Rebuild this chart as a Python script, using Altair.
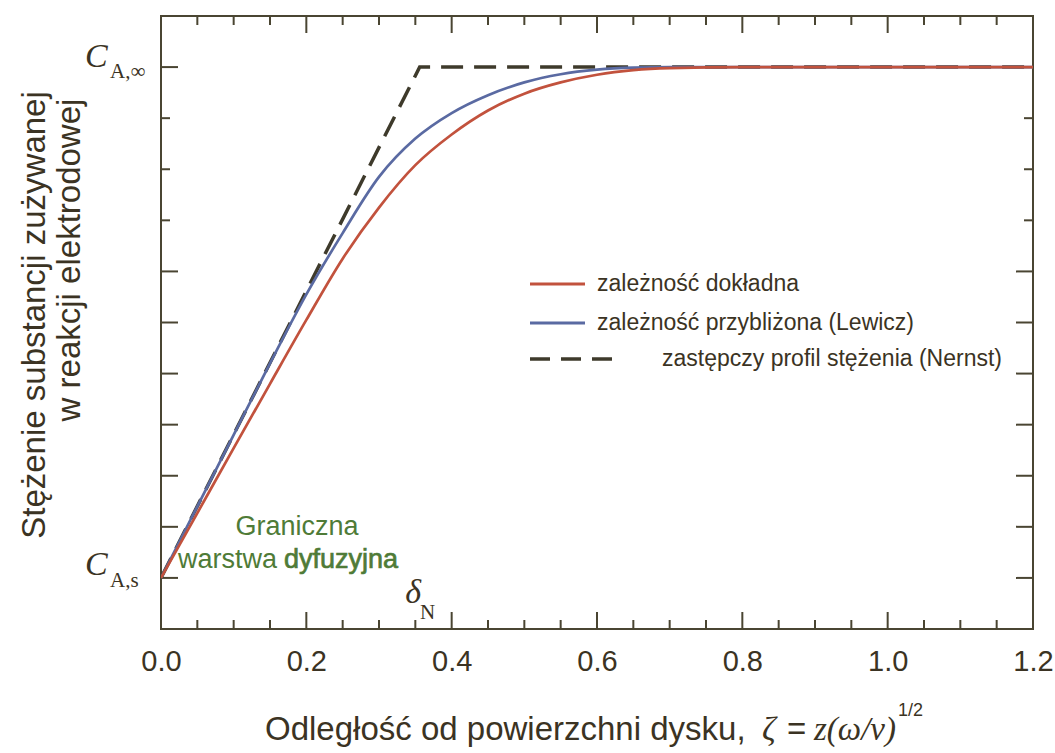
import altair as alt
import pandas as pd

# Dimensionless distance from the disk surface, zeta = z (omega/nu)^(1/2)
zeta = [0.0, 0.05, 0.10, 0.15, 0.20, 0.25, 0.30, 0.35, 0.40, 0.45, 0.50,
        0.55, 0.60, 0.65, 0.70, 0.80, 0.90, 1.00, 1.10, 1.20]
# Relative concentration: 0 = C_A,s (surface), 1 = C_A,inf (bulk)
exact = [0.0, 0.127, 0.254, 0.380, 0.505, 0.625, 0.725, 0.808, 0.868, 0.915, 0.948,
         0.970, 0.985, 0.994, 0.998, 1.0, 1.0, 1.0, 1.0, 1.0]
levich = [0.0, 0.140, 0.280, 0.420, 0.555, 0.675, 0.785, 0.860, 0.910, 0.945, 0.970,
          0.986, 0.995, 0.999, 1.0, 1.0, 1.0, 1.0, 1.0, 1.0]
# Nernst substitute profile: linear up to delta_N, then constant
delta_n = 0.356
nernst_zeta = [0.0, delta_n, 1.2]
nernst = [0.0, 1.0, 1.0]

x_ticks = [round(0.05 * i, 2) for i in range(25)]
x_major = [0.0, 0.2, 0.4, 0.6, 0.8, 1.0, 1.2]
y_ticks_long = [0.0, 0.1, 0.2, 0.3, 0.4, 0.5, 0.6, 1.0]
y_ticks_short = [0.7, 0.8, 0.9]

INK = "#3b3323"
FRAME = "#4a4532"
RED = "#c2523d"
BLUE = "#5a6aa2"
DASH = "#3e3a2b"
GREEN = "#4f7b37"
SANS = "Liberation Sans"
SERIF = "Liberation Serif"

W, H = 872, 613

x_scale = alt.Scale(domain=[0, 1.2], nice=False, zero=False)
y_scale = alt.Scale(domain=[-0.1, 1.1], nice=False, zero=False)
x_axis = alt.Axis(values=x_major, format=".1f", ticks=False, tickSize=0, domain=False,
                  grid=False, labelFont=SANS, labelFontSize=29, labelColor=INK,
                  labelBaseline="alphabetic", labelPadding=41, labelFlush=False, title=None)


def xq(field="zeta"):
    return alt.X(f"{field}:Q", scale=x_scale, axis=x_axis)


def yq(field="c"):
    return alt.Y(f"{field}:Q", scale=y_scale, axis=None)


def curve(xs, ys, color, width, dash=None):
    df = pd.DataFrame({"zeta": xs, "c": ys})
    kw = dict(color=color, strokeWidth=width, clip=True)
    if dash:
        kw["strokeDash"] = dash
    else:
        kw["interpolate"] = "monotone"
    return alt.Chart(df).mark_line(**kw).encode(x=xq(), y=yq())


def text(t, x, y, size, font=SANS, style="normal", color=INK,
         align="left", baseline="alphabetic", angle=0, heavy=False):
    kw = dict(font=font, fontSize=size, fontStyle=style, color=color,
              align=align, baseline=baseline, angle=angle)
    if heavy:
        kw.update(stroke=color, strokeWidth=0.7)
    return alt.Chart(pd.DataFrame({"t": [t]})).mark_text(**kw).encode(
        x=alt.value(x), y=alt.value(y), text="t:N")


# Inward ticks on all four sides of the frame
xt = pd.DataFrame({"zeta": x_ticks})
xt_major = xt[xt["zeta"].round(2).isin(x_major)]
xt_minor = xt[~xt["zeta"].round(2).isin(x_major)]


def xtick_layer(df, length, top):
    if top:
        enc = dict(y=alt.value(0), y2=alt.value(length))
    else:
        enc = dict(y=alt.value(H), y2=alt.value(H - length))
    return alt.Chart(df).mark_rule(color=FRAME, strokeWidth=2).encode(x=xq(), **enc)


def ytick_layer(values, length, right):
    df = pd.DataFrame({"c": values})
    if right:
        enc = dict(x=alt.value(W), x2=alt.value(W - length))
    else:
        enc = dict(x=alt.value(0), x2=alt.value(length))
    return alt.Chart(df).mark_rule(color=FRAME, strokeWidth=2).encode(y=yq(), **enc)


ticks = [
    xtick_layer(xt_major, 17, False), xtick_layer(xt_minor, 9, False),
    xtick_layer(xt_major, 17, True), xtick_layer(xt_minor, 9, True),
    ytick_layer(y_ticks_long, 17, False), ytick_layer(y_ticks_short, 9, False),
    ytick_layer(y_ticks_long, 17, True), ytick_layer(y_ticks_short, 9, True),
]

lines = [
    curve(nernst_zeta, nernst, DASH, 3.5, dash=[22, 11]),
    curve(zeta, levich, BLUE, 2.7),
    curve(zeta, exact, RED, 2.7),
]

# Legend drawn inside the plot area
legend = [
    alt.Chart(pd.DataFrame({"c": [0]})).mark_rule(color=RED, strokeWidth=3).encode(
        x=alt.value(369), x2=alt.value(424), y=alt.value(268)),
    alt.Chart(pd.DataFrame({"c": [0]})).mark_rule(color=BLUE, strokeWidth=3).encode(
        x=alt.value(369), x2=alt.value(424), y=alt.value(307)),
    alt.Chart(pd.DataFrame({"c": [0]})).mark_rule(color=DASH, strokeWidth=3.5, strokeDash=[20, 11]).encode(
        x=alt.value(369), x2=alt.value(451), y=alt.value(343)),
    text("zależność dokładna", 436, 268, 23, baseline="middle"),
    text("zależność przybliżona (Lewicz)", 436, 307, 23, baseline="middle"),
    text("zastępczy profil stężenia (Nernst)", 501, 343, 23, baseline="middle"),
]

annotations = [
    # y-axis end labels C_A,inf and C_A,s
    text("C", -76, 51, 34, font=SERIF, style="italic"),
    text("A,∞", -51, 62, 21, font=SERIF),
    text("C", -76, 559, 34, font=SERIF, style="italic"),
    text("A,s", -51, 571, 21, font=SERIF),
    # Nernst layer thickness
    text("δ", 260, 587, 34, font=SERIF, style="italic", align="right"),
    text("N", 259, 603, 21, font=SERIF),
    # diffusion layer label
    text("Graniczna", 136, 519, 27, color=GREEN, align="center"),
    text("warstwa", 17, 552, 27, color=GREEN),
    text("dyfuzyjna", 123, 552, 27, color=GREEN, heavy=True),
    # axis titles
    text("Stężenie substancji zużywanej", -126, 299, 33, angle=270, align="center", baseline="middle"),
    text("w reakcji elektrodowej", -91, 244, 33, angle=270, align="center", baseline="middle"),
    text("Odległość od powierzchni dysku,", 104, 724, 33),
    text("ζ", 601, 724, 34, font=SERIF, style="italic"),
    text("=", 626, 724, 33),
    text("z(ω/ν)", 653, 724, 33, font=SERIF, style="italic"),
    text("1/2", 737, 700, 18),
]

chart = alt.layer(*ticks, *lines, *legend, *annotations).properties(
    width=W, height=H,
    padding={"left": 161, "top": 16, "right": 22, "bottom": 124},
    autosize=alt.AutoSizeParams(type="none"),
    background="white",
).configure_view(stroke=FRAME, strokeWidth=2)

chart.save("out.html", embed_options={"renderer": "svg", "actions": False})
